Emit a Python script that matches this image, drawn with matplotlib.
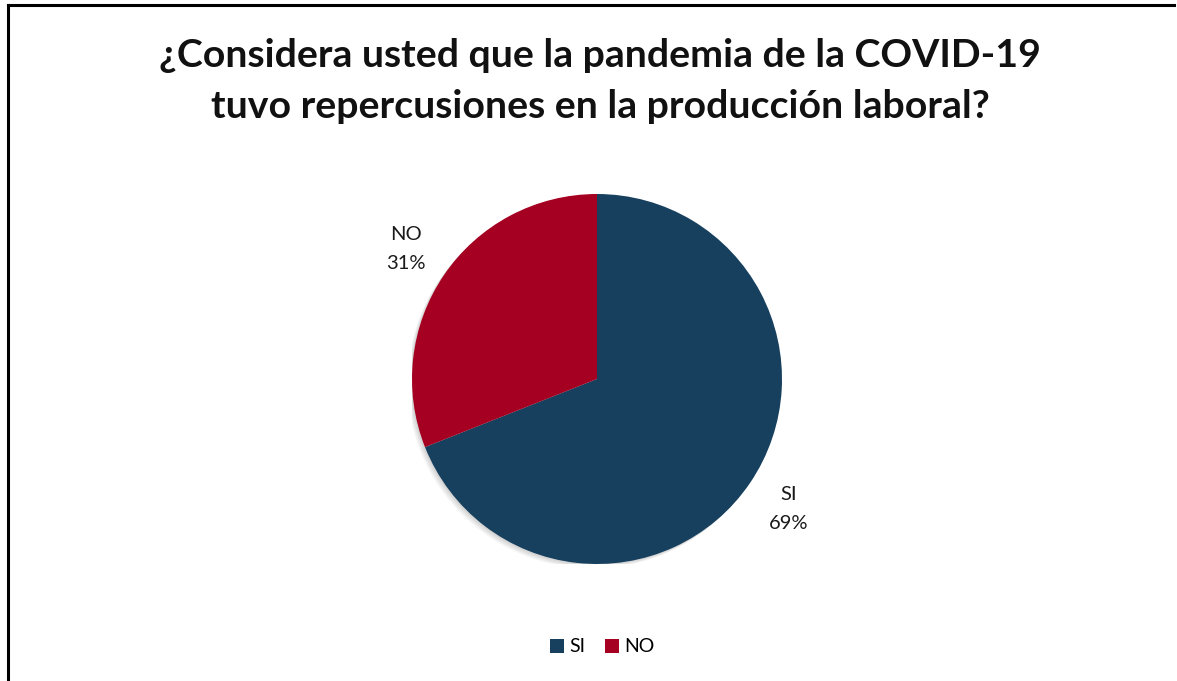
import matplotlib
matplotlib.use("Agg")
import matplotlib.pyplot as plt
from matplotlib.lines import Line2D
from matplotlib.patches import Circle, Patch

categories = ["SI", "NO"]
values = [69, 31]
colors = ["#17405F", "#A50021"]
title = "¿Considera usted que la pandemia de la COVID-19\ntuvo repercusiones en la producción laboral?"

W, H = 1177, 681
fig = plt.figure(figsize=(W / 100, H / 100), dpi=100)
plt.rcParams["font.family"] = ["Lato", "DejaVu Sans"]

# pie axes: centre (597, 379) px, radius 185 px
cx, cy, r = 597, 379, 185
ax = fig.add_axes([(cx - r) / W, (H - cy - r) / H, 2 * r / W, 2 * r / H])
ax.set_xlim(-1, 1)
ax.set_ylim(-1, 1)
ax.set_aspect("equal")
ax.axis("off")

# soft shadow under the pie
for i in range(4):
    ax.add_patch(Circle((-0.006 * (i + 1), -0.006 * (i + 1)), 1.0,
                        facecolor="black", alpha=0.045, edgecolor="none", zorder=0))

labels = [f"{c}\n{v}%" for c, v in zip(categories, values)]
wedges, texts = ax.pie(values, colors=colors, startangle=90, counterclock=False,
                       labels=labels, labeldistance=1.25,
                       wedgeprops=dict(linewidth=0),
                       textprops=dict(fontsize=14.5, color="#1a1a1a",
                                      linespacing=1.9))
for t in texts:
    t.set_horizontalalignment("center")
    t.set_verticalalignment("center")
ax.set_xlim(-1, 1)
ax.set_ylim(-1, 1)

fig.text(600 / W, 1 - 81 / H, title, ha="center", va="center", fontsize=28.3,
         fontweight="bold", color="#111111", linespacing=1.55)

handles = [Patch(facecolor=c, edgecolor="none") for c in colors]
fig.legend(handles, categories, loc="center", bbox_to_anchor=(602 / W, 1 - 647 / H),
           ncol=2, frameon=False, fontsize=14, handlelength=0.75, handleheight=0.75,
           handletextpad=0.25, columnspacing=1.0)

# frame: top and left edges
fig.add_artist(Line2D([8 / W, 1174 / W], [1 - 5 / H, 1 - 5 / H], color="black",
                      linewidth=2.2, transform=fig.transFigure))
fig.add_artist(Line2D([8 / W, 8 / W], [0, 1 - 5 / H], color="black",
                      linewidth=2.2, transform=fig.transFigure))

fig.savefig("out.png", dpi=100, facecolor="white")
